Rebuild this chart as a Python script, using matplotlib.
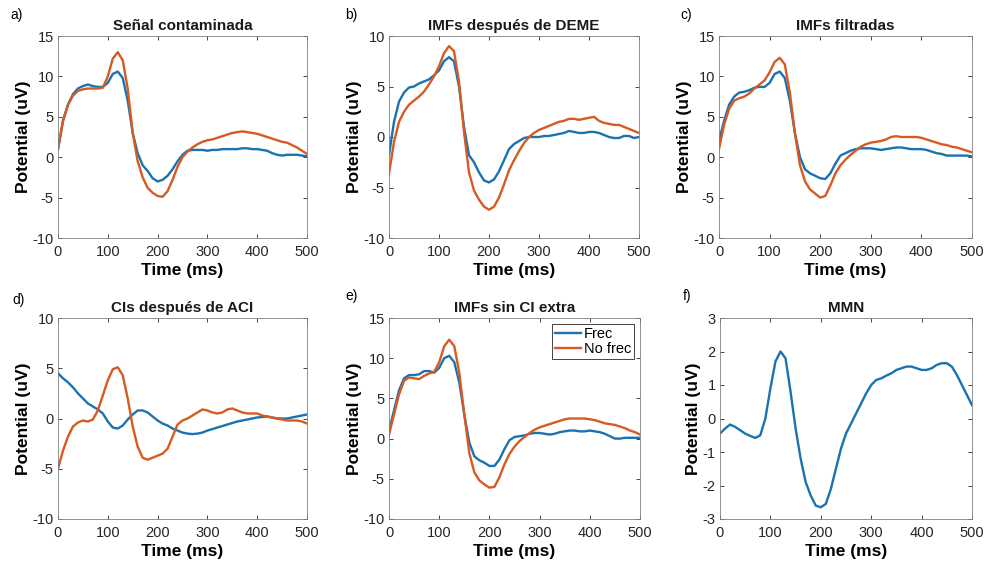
import numpy as np
import matplotlib.pyplot as plt

plt.rcParams['font.family'] = ['Liberation Sans', 'DejaVu Sans']
plt.rcParams['axes.unicode_minus'] = False

# tiempo (ms), muestras cada 10 ms
t = np.arange(0, 501, 10)

# a) Señal contaminada
a_frec = [1.0, 4.5, 6.5, 7.8, 8.5, 8.8, 9.0, 8.8, 8.7, 8.7,
          9.2, 10.3, 10.6, 9.8, 7.0, 3.0, 0.5, -1.0, -1.7, -2.6,
          -3.0, -2.8, -2.3, -1.5, -0.5, 0.3, 0.8, 0.9, 0.9, 0.9,
          0.8, 0.9, 0.9, 1.0, 1.0, 1.0, 1.0, 1.1, 1.1, 1.0,
          1.0, 0.9, 0.8, 0.5, 0.3, 0.2, 0.3, 0.3, 0.3, 0.2, 0.1]
a_nofrec = [1.0, 4.5, 6.5, 7.6, 8.2, 8.4, 8.5, 8.5, 8.5, 8.6,
            10.0, 12.2, 13.0, 12.0, 8.5, 3.0, -0.5, -2.5, -3.8, -4.4,
            -4.8, -4.9, -4.2, -2.8, -1.2, 0.0, 0.7, 1.2, 1.6, 1.9,
            2.1, 2.2, 2.4, 2.6, 2.8, 3.0, 3.1, 3.2, 3.1, 3.0,
            2.9, 2.7, 2.5, 2.3, 2.1, 1.9, 1.8, 1.5, 1.2, 0.8, 0.4]

# b) IMFs después de DEME
b_frec = [-1.8, 1.5, 3.5, 4.4, 4.9, 5.0, 5.3, 5.5, 5.7, 6.1,
          6.6, 7.5, 7.9, 7.5, 5.0, 1.0, -1.8, -2.5, -3.5, -4.3,
          -4.5, -4.2, -3.4, -2.3, -1.2, -0.7, -0.4, -0.1, 0.0, 0.0,
          0.0, 0.1, 0.1, 0.2, 0.3, 0.4, 0.6, 0.5, 0.4, 0.4,
          0.5, 0.5, 0.4, 0.2, 0.0, -0.1, -0.1, 0.1, 0.1, -0.1, 0.0]
b_nofrec = [-3.6, -0.5, 1.5, 2.5, 3.2, 3.6, 4.0, 4.5, 5.2, 6.0,
            7.0, 8.3, 9.0, 8.5, 5.5, 0.5, -3.5, -5.3, -6.2, -6.9,
            -7.2, -6.9, -6.0, -4.7, -3.3, -2.3, -1.4, -0.6, 0.0, 0.4,
            0.7, 0.9, 1.1, 1.3, 1.5, 1.6, 1.8, 1.8, 1.7, 1.8,
            1.9, 2.0, 1.6, 1.4, 1.3, 1.2, 1.2, 1.0, 0.8, 0.6, 0.4]

# c) IMFs filtradas
c_frec = [2.0, 4.5, 6.5, 7.5, 8.0, 8.1, 8.3, 8.6, 8.7, 8.7,
          9.2, 10.3, 10.6, 9.8, 7.0, 3.0, 0.0, -1.5, -2.0, -2.3,
          -2.6, -2.7, -2.0, -0.8, 0.2, 0.5, 0.8, 1.0, 1.1, 1.1,
          1.1, 1.0, 0.9, 1.0, 1.1, 1.2, 1.2, 1.1, 1.0, 1.0,
          1.0, 0.9, 0.7, 0.5, 0.4, 0.2, 0.2, 0.2, 0.2, 0.2, 0.1]
c_nofrec = [1.0, 4.0, 6.0, 7.0, 7.3, 7.5, 7.9, 8.5, 9.0, 9.5,
            10.5, 11.8, 12.3, 11.5, 8.0, 3.0, -1.0, -3.0, -4.0, -4.5,
            -5.0, -4.8, -3.5, -2.0, -1.0, -0.3, 0.3, 0.8, 1.3, 1.6,
            1.8, 1.9, 2.0, 2.2, 2.5, 2.6, 2.5, 2.5, 2.5, 2.5,
            2.4, 2.2, 2.0, 1.8, 1.6, 1.5, 1.3, 1.2, 1.0, 0.8, 0.6]

# d) CIs después de ACI
d_frec = [4.5, 4.0, 3.6, 3.1, 2.5, 2.0, 1.5, 1.2, 0.9, 0.5,
          -0.3, -0.9, -1.0, -0.7, -0.1, 0.4, 0.8, 0.8, 0.6, 0.2,
          -0.2, -0.5, -0.7, -1.0, -1.2, -1.4, -1.5, -1.55, -1.5, -1.4,
          -1.2, -1.05, -0.9, -0.75, -0.6, -0.45, -0.3, -0.2, -0.1, 0.0,
          0.1, 0.15, 0.2, 0.1, 0.0, 0.0, 0.0, 0.1, 0.2, 0.3, 0.4]
d_nofrec = [-5.0, -3.2, -1.8, -0.8, -0.4, -0.2, -0.3, -0.1, 0.8, 2.3,
            3.8, 4.9, 5.1, 4.3, 2.0, -0.8, -2.8, -3.9, -4.1, -3.9,
            -3.7, -3.5, -3.0, -1.8, -0.6, -0.2, 0.0, 0.3, 0.6, 0.9,
            0.8, 0.6, 0.5, 0.6, 0.9, 1.0, 0.8, 0.6, 0.5, 0.5,
            0.5, 0.3, 0.2, 0.1, 0.0, -0.1, -0.2, -0.2, -0.2, -0.3, -0.5]

# e) IMFs sin CI extra
e_frec = [1.0, 3.5, 6.0, 7.5, 7.9, 7.9, 8.0, 8.4, 8.4, 8.2,
          8.8, 10.0, 10.3, 9.5, 7.0, 3.0, -0.5, -2.2, -2.7, -3.0,
          -3.4, -3.4, -2.6, -1.3, -0.2, 0.2, 0.3, 0.4, 0.6, 0.7,
          0.7, 0.6, 0.5, 0.6, 0.8, 0.9, 1.0, 1.0, 0.9, 0.9,
          1.0, 0.9, 0.8, 0.6, 0.3, 0.0, 0.0, 0.1, 0.1, 0.1, 0.1]
e_nofrec = [0.5, 3.0, 5.5, 7.2, 7.6, 7.5, 7.4, 7.8, 8.1, 8.3,
            9.5, 11.5, 12.3, 11.5, 8.2, 3.0, -1.8, -4.2, -5.2, -5.7,
            -6.1, -6.0, -4.8, -3.2, -1.9, -1.0, -0.3, 0.2, 0.7, 1.1,
            1.4, 1.6, 1.8, 2.0, 2.2, 2.4, 2.5, 2.5, 2.5, 2.5,
            2.4, 2.3, 2.1, 1.9, 1.8, 1.7, 1.5, 1.3, 1.0, 0.8, 0.5]

# f) MMN
mmn = [-0.45, -0.3, -0.18, -0.25, -0.35, -0.45, -0.52, -0.58, -0.5, 0.0,
       0.9, 1.7, 2.0, 1.8, 0.8, -0.3, -1.2, -1.9, -2.3, -2.6,
       -2.65, -2.55, -2.1, -1.5, -0.9, -0.45, -0.15, 0.15, 0.45, 0.75,
       1.0, 1.15, 1.2, 1.28, 1.35, 1.45, 1.5, 1.55, 1.55, 1.5,
       1.45, 1.45, 1.5, 1.6, 1.65, 1.65, 1.55, 1.3, 1.0, 0.7, 0.4]

azul = '#1a72b0'
naranja = '#d65a22'
gris = '#262626'

fig = plt.figure(figsize=(9.85, 5.67), dpi=100)

# posiciones en pixeles: izquierda, derecha, arriba, abajo
cajas = [(58, 307, 36, 238), (389, 639, 36, 238), (719, 972, 36, 238),
         (58, 307, 318, 519), (389, 640, 318, 519), (720, 972, 318, 519)]
titulos = ['Señal contaminada', 'IMFs después de DEME', 'IMFs filtradas',
           'CIs después de ACI', 'IMFs sin CI extra', 'MMN']
letras = ['a)', 'b)', 'c)', 'd)', 'e)', 'f)']
letras_pos = [(10, 15), (345, 15), (680, 15), (12, 300), (345, 296), (683, 296)]
series = [(a_frec, a_nofrec), (b_frec, b_nofrec), (c_frec, c_nofrec),
          (d_frec, d_nofrec), (e_frec, e_nofrec), (mmn, None)]
limites = [(-10, 15), (-10, 10), (-10, 15), (-10, 10), (-10, 15), (-3, 3)]

W, H = 985, 567
for i in range(6):
    l, r, tp, bt = cajas[i]
    ax = fig.add_axes([l / W, 1 - bt / H, (r - l) / W, (bt - tp) / H])
    y1, y2 = series[i]
    ax.plot(t, y1, color=azul, lw=1.7, label='Frec', solid_joinstyle='round')
    if y2 is not None:
        ax.plot(t, y2, color=naranja, lw=1.7, label='No frec', solid_joinstyle='round')
    ax.set_xlim(0, 500)
    ax.set_ylim(*limites[i])
    ax.set_xticks([0, 100, 200, 300, 400, 500])
    if i == 5:
        ax.set_yticks([-3, -2, -1, 0, 1, 2, 3])
    ax.set_title(titulos[i], fontsize=11, fontweight='bold', color='#1a1a1a', pad=4)
    ax.set_xlabel('Time (ms)', fontsize=12.5, fontweight='bold', labelpad=3)
    ax.set_ylabel('Potential (uV)', fontsize=12.5, fontweight='bold', labelpad=1)
    ax.tick_params(direction='in', top=True, right=True, labelsize=10.5,
                   colors=gris, length=3, width=0.6)
    ax.tick_params(axis='x', pad=5)
    ax.tick_params(axis='y', pad=3)
    for s in ax.spines.values():
        s.set_color('#808080')
        s.set_linewidth(0.6)
    if i == 4:
        leg = ax.legend(loc='upper right', fontsize=10.5, handlelength=1.8,
                        handletextpad=0.2, borderpad=0.2, labelspacing=0.1,
                        fancybox=False, framealpha=1, borderaxespad=0.4)
        leg.get_frame().set_edgecolor(gris)
        leg.get_frame().set_linewidth(0.6)
    fx, fy = letras_pos[i]
    fig.text(fx / W, 1 - fy / H, letras[i], fontsize=10, va='center', ha='left')

fig.savefig('out.png', dpi=100, facecolor='white')
